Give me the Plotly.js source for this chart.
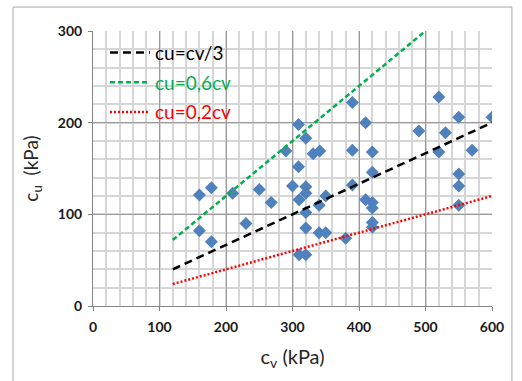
<!DOCTYPE html>
<html><head><meta charset="utf-8">
<script src="https://cdn.plot.ly/plotly-3.0.1.min.js"></script>
<style>html,body{margin:0;padding:0;background:#fff}#chart{width:522px;height:381px}</style>
</head><body><div id="chart"></div>
<script>
// measured points
const cv = [160,160,178,178,210,230,250,268,290,300,309,309,310,320,320,320,320,320,310,320,331,341,340,350,340,350,380,390,390,390,410,410,420,420,420,420,420,420,490,520,520,530,550,550,550,550,570,600];
const cu = [121,82,129,70,123,90,127,113,169,131,198,152,116,183,130,123,102,85,56,56,166,169,110,120,80,80,74,222,170,132,200,116,168,146,113,107,91,86,191,228,168,189,206,144,131,110,170,206];
// reference lines
const line1Cv = [120,600], line1Cu = [40,200];
const line2Cv = [120,500], line2Cu = [72,300];
const line3Cv = [120,600], line3Cu = [24,120];
const xTicks = [0,100,200,300,400,500,600];
const yTicks = [0,100,200,300];

const traces = [
  {x: cv, y: cu, type:'scatter', mode:'markers', showlegend:false,
   marker:{symbol:'diamond', size:10, color:'#4f81bd', line:{width:0}}},
  {x: line1Cv, y: line1Cu, type:'scatter', mode:'lines', name:'<span style="color:#000">cu=cv/3</span>', legendgroup:'a',
   line:{color:'#000000', width:2.5, dash:'8px,5px'}},
  {x: line2Cv, y: line2Cu, type:'scatter', mode:'lines', name:'<span style="color:#00b050">cu=0,6cv</span>', legendgroup:'b',
   line:{color:'#00b050', width:2.5, dash:'5px,3px'}},
  {x: line3Cv, y: line3Cu, type:'scatter', mode:'lines', name:'<span style="color:#ff0000">cu=0,2cv</span>', legendgroup:'c',
   line:{color:'#ff0000', width:2.5, dash:'2px,2px'}}
];

const tickFont = {family:'Lato, "Open Sans", sans-serif', size:14, color:'#1a1a1a', weight:'bold'};
const layout = {
  width:522, height:381,
  margin:{l:93, r:30, t:31, b:75},
  paper_bgcolor:'#fff', plot_bgcolor:'#fff',
  showlegend:true,
  legend:{x:0.03, y:0.99, xanchor:'left', yanchor:'top', bgcolor:'rgba(255,255,255,0)',
    font:{family:'Lato, "Open Sans", sans-serif', size:19}, traceorder:'grouped', tracegroupgap:2,
    itemwidth:40},
  xaxis:{range:[0,600], tickvals:xTicks, ticks:'outside', ticklen:4, tickcolor:'#868686',
    showline:true, linecolor:'#868686', linewidth:1, zeroline:false,
    showgrid:true, gridcolor:'#9a9a9a', gridwidth:1,
    minor:{dtick:20, showgrid:true, gridcolor:'#d6d6d6', gridwidth:2, ticks:''},
    tickfont:tickFont, ticklabelstandoff:4,
    title:{text:'c<sub>v</sub> (kPa)', font:{family:'Lato, "Open Sans", sans-serif', size:20, color:'#262626'}, standoff:16}},
  yaxis:{range:[0,300], tickvals:yTicks, ticks:'outside', ticklen:4, tickcolor:'#868686',
    showline:true, linecolor:'#868686', linewidth:1, zeroline:false,
    showgrid:true, gridcolor:'#9a9a9a', gridwidth:1,
    minor:{dtick:20, showgrid:true, gridcolor:'#d6d6d6', gridwidth:2, ticks:''},
    tickfont:tickFont, ticklabelstandoff:3,
    title:{text:'c<sub>u</sub>  (kPa)', font:{family:'Lato, "Open Sans", sans-serif', size:19, color:'#262626'}, standoff:14}},
  shapes:[
    {type:'rect', xref:'paper', yref:'paper', x0:0, x1:0.3935, y0:0.596, y1:1, layer:'between',
     fillcolor:'#ffffff', line:{width:0}},
    {type:'rect', xref:'paper', yref:'paper', x0:-0.2005, x1:1.05, y0:-0.29, y1:1.087, layer:'below',
     fillcolor:'rgba(0,0,0,0)', line:{color:'#a6a6a6', width:1}}
  ]
};
Plotly.newPlot('chart', traces, layout, {displayModeBar:false, staticPlot:true});
</script>
</body></html>
